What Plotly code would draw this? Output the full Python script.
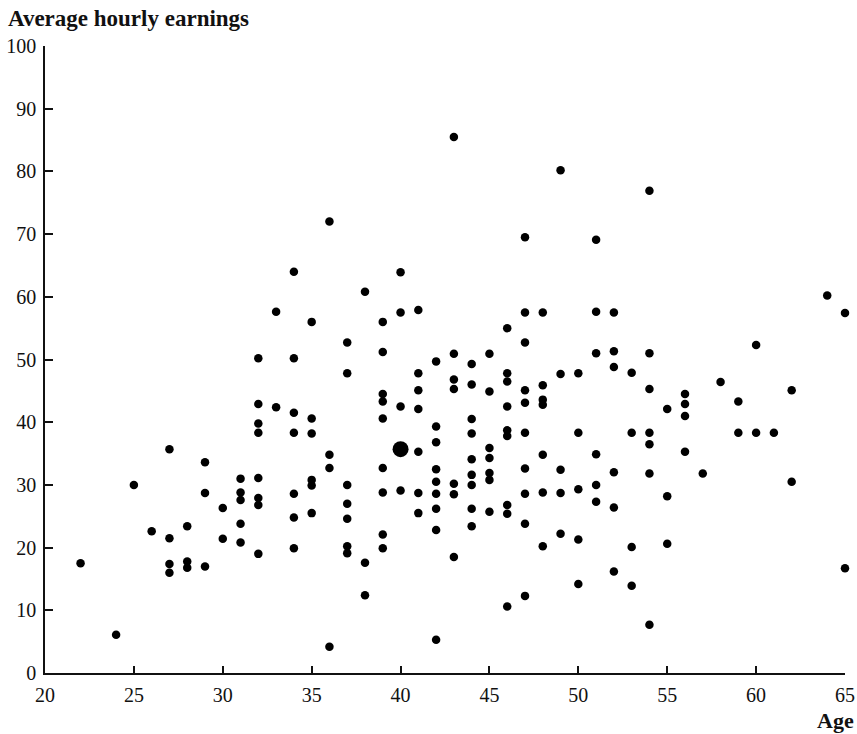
import plotly.graph_objects as go

# Data (age, average hourly earnings)
ages = (
    [22] + [24] + [25] + [26]
    + [27] * 4 + [28] * 3 + [29] * 3 + [30] * 2 + [31] * 5 + [32] * 8
    + [33] * 2 + [34] * 7 + [35] * 6 + [36] * 4 + [37] * 7 + [38] * 3
    + [39] * 9 + [40] * 4 + [41] * 7 + [42] * 9 + [43] * 7 + [44] * 9
    + [45] * 7 + [46] * 9 + [47] * 10 + [48] * 7 + [49] * 5 + [50] * 5
    + [51] * 6 + [52] * 6 + [53] * 4 + [54] * 7 + [55] * 3 + [56] * 4
    + [57] + [58] + [59] * 2 + [60] * 2 + [61] + [62] * 2 + [64] + [65] * 2
)
earnings = [
    17.5,
    6.1,
    30.0,
    22.6,
    35.7, 21.5, 17.4, 16.0,
    23.4, 17.8, 16.8,
    33.6, 28.7, 17.0,
    26.3, 21.4,
    31.0, 28.8, 27.6, 23.8, 20.8,
    50.2, 42.9, 39.8, 38.3, 31.1, 27.9, 26.8, 19.0,
    57.6, 42.4,
    64.0, 50.2, 41.5, 38.3, 28.6, 24.8, 19.9,
    56.0, 40.6, 38.2, 30.8, 29.9, 25.5,
    72.0, 34.8, 32.7, 4.2,
    52.7, 47.8, 30.0, 27.0, 24.6, 20.2, 19.1,
    60.8, 17.6, 12.4,
    56.0, 51.2, 44.5, 43.3, 40.6, 32.7, 28.8, 22.1, 19.9,
    63.9, 57.5, 42.5, 29.1,
    57.9, 47.8, 45.1, 42.1, 35.3, 28.7, 25.5,
    49.7, 39.3, 36.8, 32.5, 30.5, 28.6, 26.2, 22.8, 5.3,
    85.5, 50.9, 46.8, 45.3, 30.2, 28.5, 18.5,
    49.3, 46.0, 40.5, 38.2, 34.1, 31.6, 30.0, 26.2, 23.4,
    50.9, 44.9, 35.9, 34.3, 31.9, 30.8, 25.7,
    55.0, 47.8, 46.5, 42.5, 38.7, 37.8, 26.8, 25.4, 10.6,
    69.5, 57.5, 52.7, 45.1, 43.1, 38.3, 32.6, 28.6, 23.8, 12.3,
    57.5, 45.9, 43.6, 42.8, 34.8, 28.8, 20.2,
    80.2, 47.7, 32.4, 28.7, 22.2,
    47.8, 38.3, 29.3, 21.3, 14.2,
    69.1, 57.6, 51.0, 34.9, 30.0, 27.3,
    57.5, 51.3, 48.8, 32.0, 26.4, 16.2,
    47.9, 38.3, 20.1, 13.9,
    76.9, 51.0, 45.3, 38.3, 36.5, 31.8, 7.7,
    42.1, 28.2, 20.6,
    44.5, 42.9, 41.0, 35.3,
    31.8,
    46.4,
    43.3, 38.3,
    52.3, 38.3,
    38.3,
    45.1, 30.5,
    60.2,
    57.4, 16.7,
]

# Highlighted (larger) point
mean_age = [40]
mean_earnings = [35.7]

x_ticks = [20, 25, 30, 35, 40, 45, 50, 55, 60, 65]
y_ticks = [0, 10, 20, 30, 40, 50, 60, 70, 80, 90, 100]

FONT = "Liberation Serif"

fig = go.Figure()
fig.add_trace(go.Scatter(
    x=ages, y=earnings, mode="markers",
    marker=dict(color="black", size=8.5, line=dict(width=0)),
    cliponaxis=False, showlegend=False,
))
fig.add_trace(go.Scatter(
    x=mean_age, y=mean_earnings, mode="markers",
    marker=dict(color="black", size=16, line=dict(width=0)),
    cliponaxis=False, showlegend=False,
))

axis_common = dict(
    showgrid=False, zeroline=False, showline=True, linecolor="#111",
    linewidth=1.5, ticks="inside", tickcolor="#111", tickwidth=1.5,
    tickfont=dict(family=FONT, size=20, color="#111"),
    ticklabelstandoff=3,
)
fig.update_xaxes(range=[20, 65], tickvals=x_ticks, ticklen=7, **axis_common)
fig.update_yaxes(range=[0, 100], tickvals=y_ticks, ticklen=8, **axis_common)

fig.add_annotation(
    text="<b>Average hourly earnings</b>", xref="paper", yref="paper",
    x=-0.04875, y=1.0, yshift=28, xanchor="left", yanchor="middle",
    showarrow=False, font=dict(family=FONT, size=23, color="#111"),
)
fig.add_annotation(
    text="<b>Age</b>", xref="paper", yref="paper",
    x=1.0, y=0, yshift=-47, xshift=11, xanchor="right", yanchor="middle",
    showarrow=False, font=dict(family=FONT, size=22, color="#111"),
)

fig.update_layout(
    width=857, height=734,
    margin=dict(l=45, r=12, t=46, b=61, autoexpand=False),
    plot_bgcolor="white", paper_bgcolor="white",
)

# Remove the default 8px page margin so the figure fills the window exactly.
fig.write_html(
    "out.html",
    config={"displayModeBar": False},
    post_script="document.body.style.margin='0';",
)
